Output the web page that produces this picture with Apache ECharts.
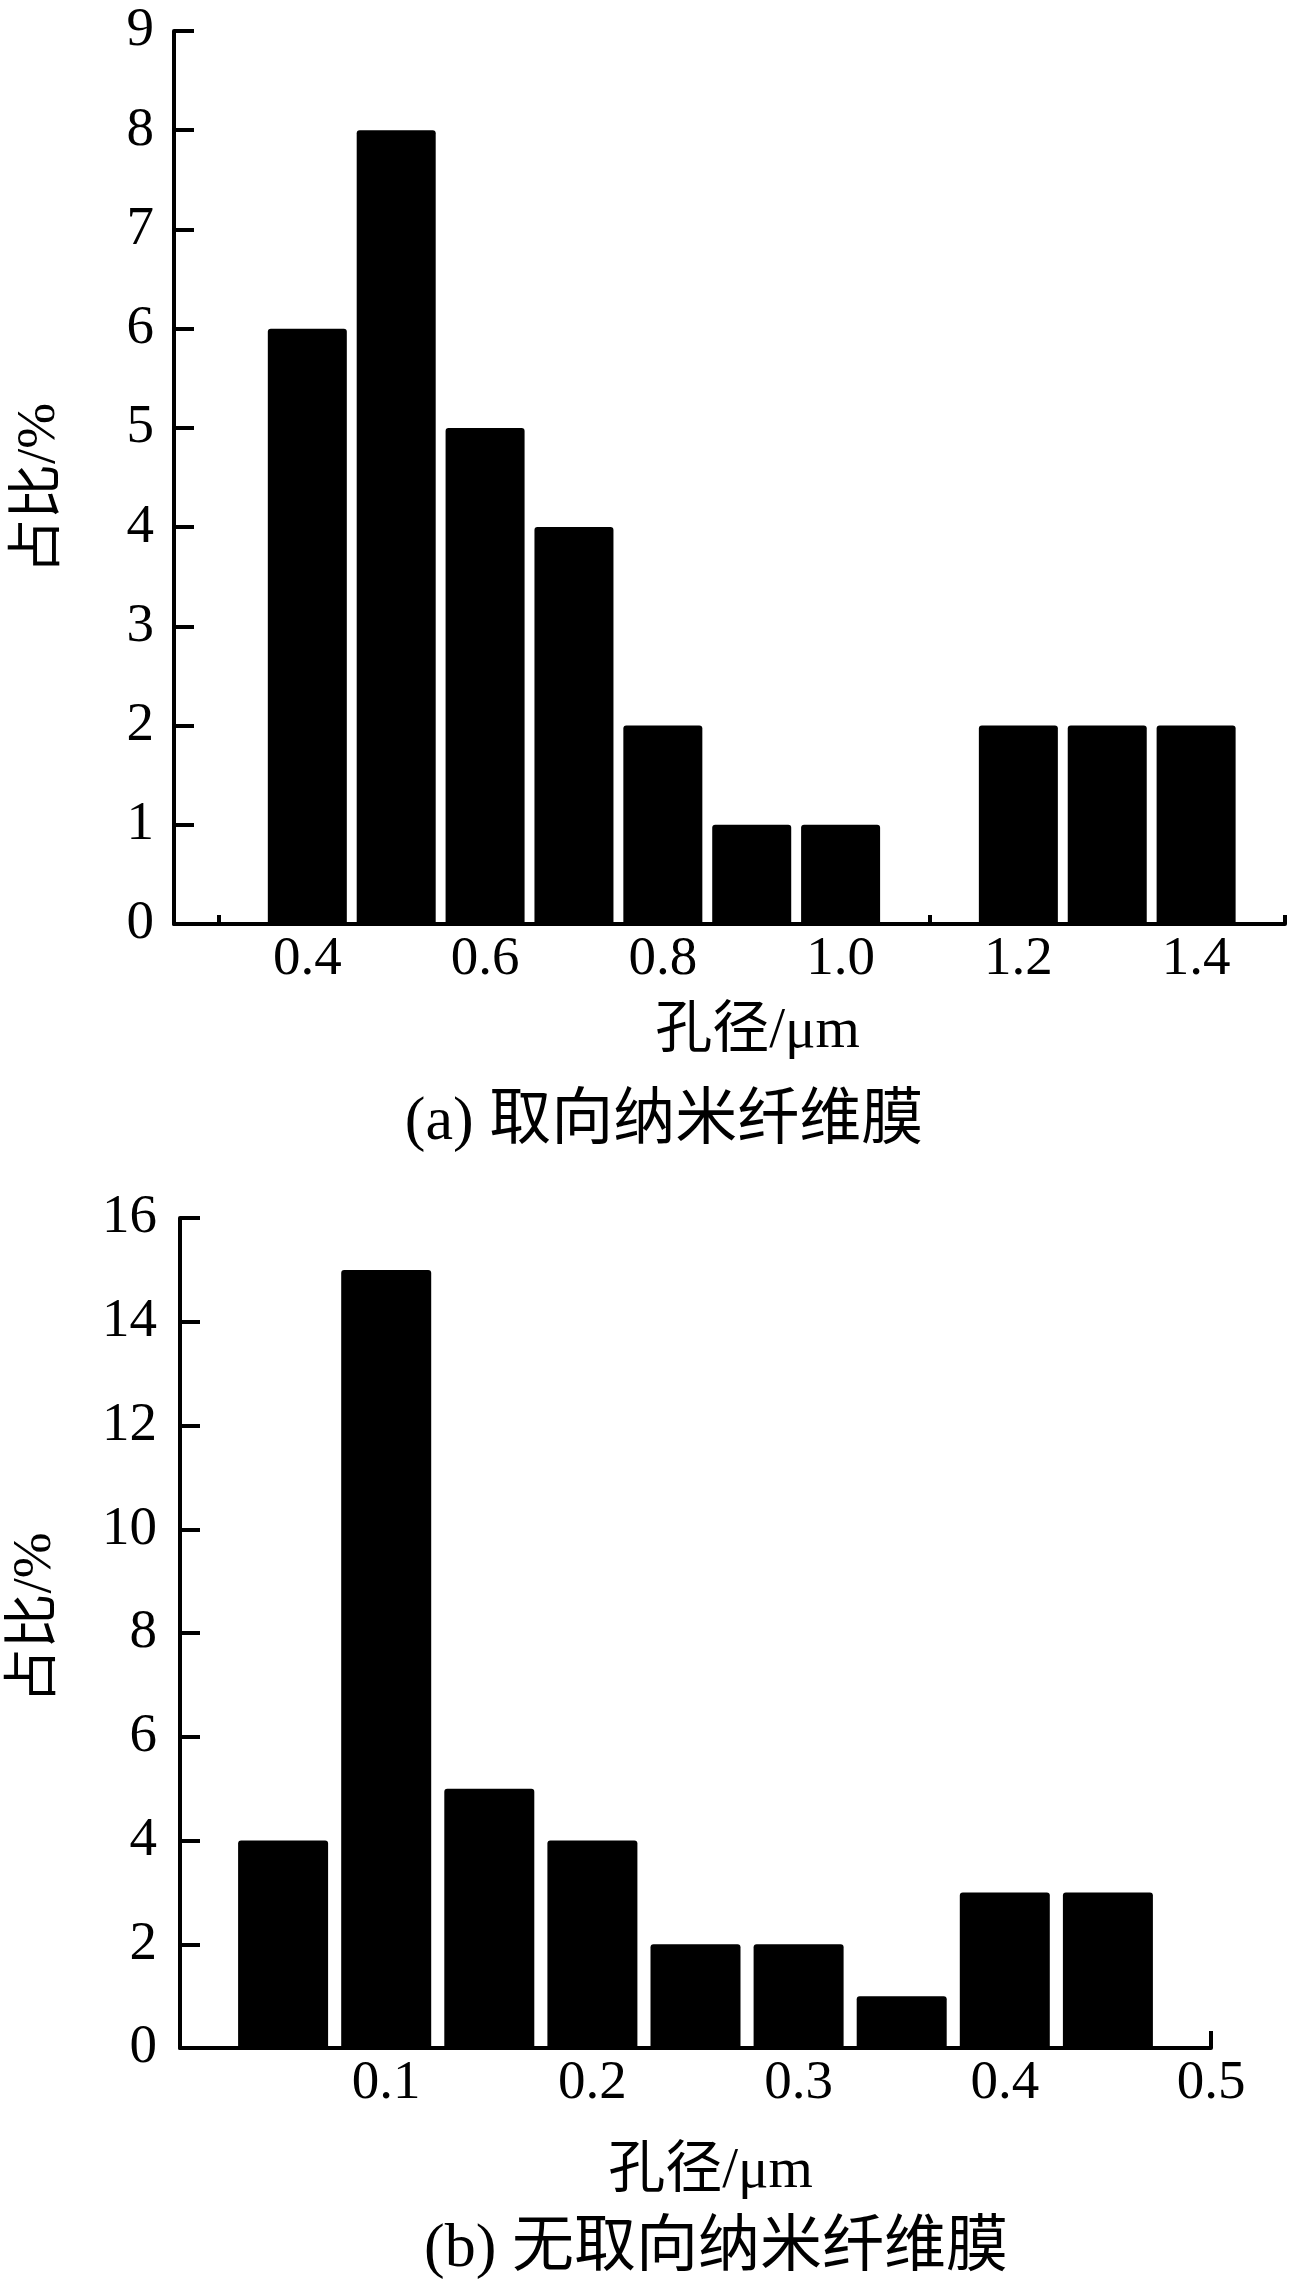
<!DOCTYPE html>
<html>
<head>
<meta charset="utf-8">
<script src="https://cdn.jsdelivr.net/npm/echarts@6/dist/echarts.min.js"></script>
<style>
html,body{margin:0;padding:0;background:#fff;}
#c{width:1299px;height:2291px;}
</style>
</head>
<body>
<div id="c"></div>
<script>
// Panel (a): aligned nanofiber membrane
var aPoreSize = [0.4, 0.5, 0.6, 0.7, 0.8, 0.9, 1.0, 1.1, 1.2, 1.3, 1.4];
var aShare    = [6, 8, 5, 4, 2, 1, 1, 0, 2, 2, 2];
var aXLabels  = [0.4, 0.6, 0.8, 1.0, 1.2, 1.4];
var aXTicks   = [0.3, 0.4, 0.5, 0.6, 0.7, 0.8, 0.9, 1.0, 1.1, 1.2, 1.3, 1.4, 1.5];

// Panel (b): non-aligned nanofiber membrane
var bPoreSize = [0.05, 0.10, 0.15, 0.20, 0.25, 0.30, 0.35, 0.40, 0.45];
var bShare    = [4, 15, 5, 4, 2, 2, 1, 3, 3];

var xName = '孔径/μm';
var yName = '占比/%';
var titleA = '(a) 取向纳米纤维膜';
var titleB = '(b) 无取向纳米纤维膜';

var FONT = '"Liberation Serif", "Times New Roman", "Noto Sans CJK SC", serif';

function pairs(xs, ys){ return xs.map(function(x,i){ return [x, ys[i]]; }); }

var lineStyle = {color:'#000', width:4};
var labelStyle = {color:'#000', fontFamily:FONT, fontSize:55};

var chart = echarts.init(document.getElementById('c'), null, {renderer:'canvas'});
chart.setOption({
  animation:false,
  backgroundColor:'#fff',
  grid:[
    {left:174, top:31, width:1111, height:893},
    {left:179, top:1218, width:1032, height:830}
  ],
  xAxis:[
    {
      type:'value', gridIndex:0, min:0.25, max:1.5,
      name:xName, nameLocation:'middle', nameGap:80,
      nameTextStyle:{color:'#000', fontFamily:FONT, fontSize:57, padding:[0,0,0,56]},
      axisLine:{show:true, lineStyle:lineStyle},
      axisTick:{show:true, inside:true, length:9, lineStyle:{color:'#000', width:4}, customValues:aXTicks},
      axisLabel:Object.assign({margin:8, customValues:aXLabels, formatter:function(v){return v.toFixed(1);}}, labelStyle),
      splitLine:{show:false}
    },
    {
      type:'value', gridIndex:1, min:0, max:0.5, interval:0.1,
      name:xName, nameLocation:'middle', nameGap:96,
      nameTextStyle:{color:'#000', fontFamily:FONT, fontSize:57, padding:[0,0,0,30]},
      axisLine:{show:true, lineStyle:lineStyle},
      axisTick:{show:true, inside:true, length:17, lineStyle:{color:'#000', width:4}},
      axisLabel:Object.assign({margin:8, showMinLabel:false, formatter:function(v){return v.toFixed(1);}}, labelStyle),
      splitLine:{show:false}
    }
  ],
  yAxis:[
    {
      type:'value', gridIndex:0, min:0, max:9, interval:1,
      name:yName, nameLocation:'middle', nameGap:107, nameRotate:90,
      nameTextStyle:{color:'#000', fontFamily:FONT, fontSize:55, padding:[0,22,0,0]},
      axisLine:{show:true, lineStyle:lineStyle},
      axisTick:{show:true, inside:true, length:20, lineStyle:{color:'#000', width:4}},
      axisLabel:Object.assign({margin:20}, labelStyle),
      splitLine:{show:false}
    },
    {
      type:'value', gridIndex:1, min:0, max:16, interval:2,
      name:yName, nameLocation:'middle', nameGap:117, nameRotate:90,
      nameTextStyle:{color:'#000', fontFamily:FONT, fontSize:55, padding:[0,0,0,30]},
      axisLine:{show:true, lineStyle:lineStyle},
      axisTick:{show:true, inside:true, length:20, lineStyle:{color:'#000', width:4}},
      axisLabel:Object.assign({margin:23}, labelStyle),
      splitLine:{show:false}
    }
  ],
  series:[
    {
      type:'bar', xAxisIndex:0, yAxisIndex:0, barWidth:79,
      itemStyle:{color:'#000', borderRadius:[3,3,0,0]},
      data:pairs(aPoreSize, aShare)
    },
    {
      type:'bar', xAxisIndex:1, yAxisIndex:1, barWidth:90,
      itemStyle:{color:'#000', borderRadius:[3,3,0,0]},
      data:pairs(bPoreSize, bShare)
    }
  ],
  graphic:[
    {type:'text', x:664, y:1123, style:{text:titleA, fill:'#000', font:'62px '+FONT, textAlign:'center', textVerticalAlign:'middle'}},
    {type:'text', x:716, y:2250, style:{text:titleB, fill:'#000', font:'62px '+FONT, textAlign:'center', textVerticalAlign:'middle'}}
  ]
});
</script>
</body>
</html>
